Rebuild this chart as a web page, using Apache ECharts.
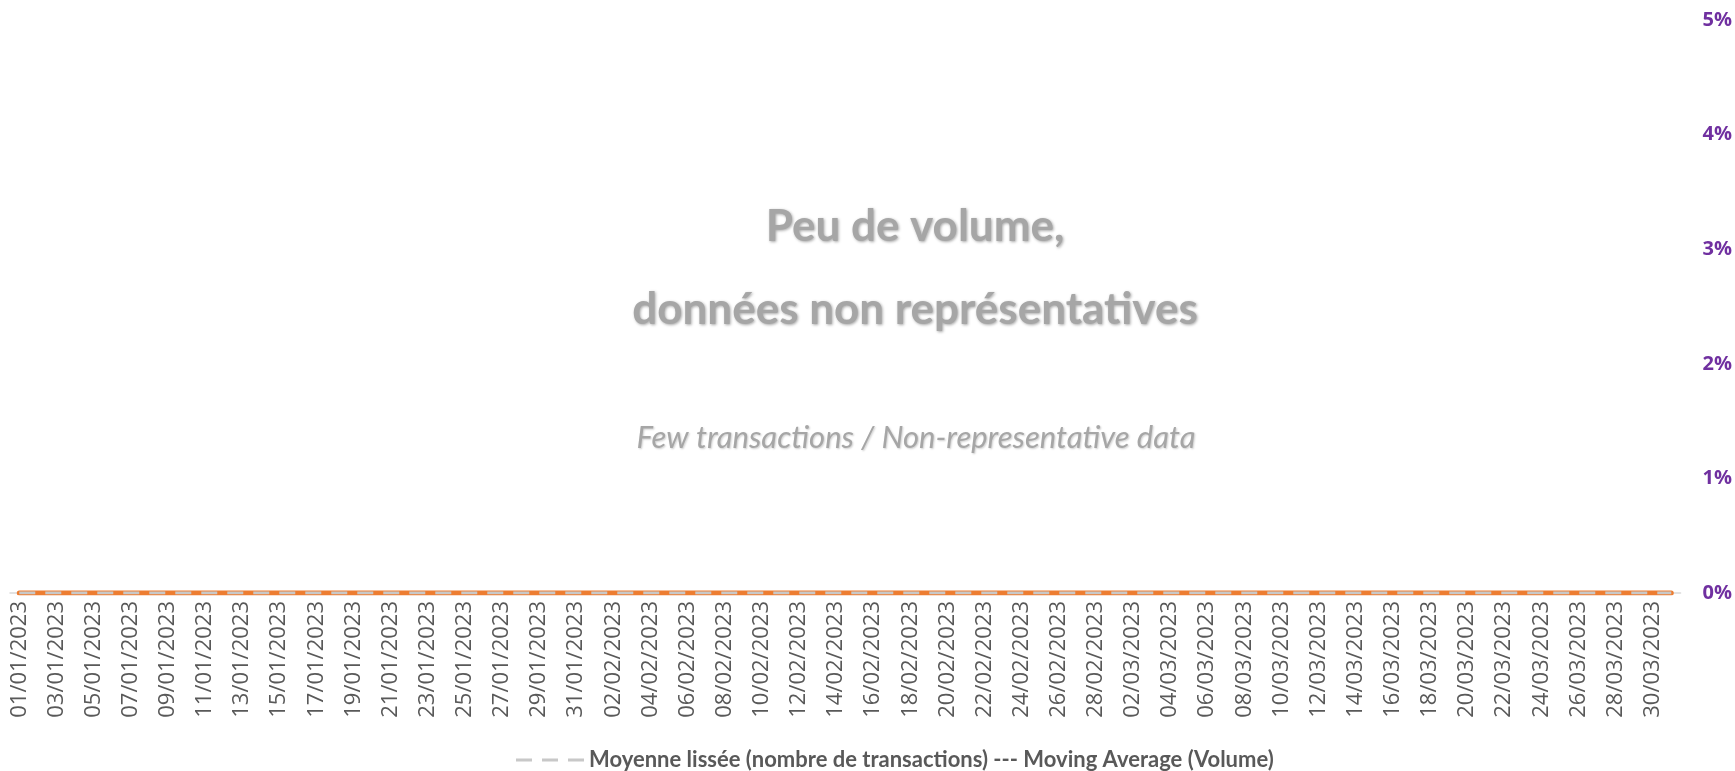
<!DOCTYPE html>
<html>
<head>
<meta charset="utf-8">
<script src="https://cdn.jsdelivr.net/npm/echarts@6/dist/echarts.min.js"></script>
<style>html,body{margin:0;padding:0;background:#fff}#c{width:1735px;height:771px}</style>
</head>
<body>
<div id="c"></div>
<script>
const categories = [
"01/01/2023","02/01/2023","03/01/2023","04/01/2023","05/01/2023","06/01/2023","07/01/2023","08/01/2023","09/01/2023","10/01/2023",
"11/01/2023","12/01/2023","13/01/2023","14/01/2023","15/01/2023","16/01/2023","17/01/2023","18/01/2023","19/01/2023","20/01/2023",
"21/01/2023","22/01/2023","23/01/2023","24/01/2023","25/01/2023","26/01/2023","27/01/2023","28/01/2023","29/01/2023","30/01/2023",
"31/01/2023","01/02/2023","02/02/2023","03/02/2023","04/02/2023","05/02/2023","06/02/2023","07/02/2023","08/02/2023","09/02/2023",
"10/02/2023","11/02/2023","12/02/2023","13/02/2023","14/02/2023","15/02/2023","16/02/2023","17/02/2023","18/02/2023","19/02/2023",
"20/02/2023","21/02/2023","22/02/2023","23/02/2023","24/02/2023","25/02/2023","26/02/2023","27/02/2023","28/02/2023","01/03/2023",
"02/03/2023","03/03/2023","04/03/2023","05/03/2023","06/03/2023","07/03/2023","08/03/2023","09/03/2023","10/03/2023","11/03/2023",
"12/03/2023","13/03/2023","14/03/2023","15/03/2023","16/03/2023","17/03/2023","18/03/2023","19/03/2023","20/03/2023","21/03/2023",
"22/03/2023","23/03/2023","24/03/2023","25/03/2023","26/03/2023","27/03/2023","28/03/2023","29/03/2023","30/03/2023","31/03/2023"
];
const volumeValues = [
0,0,0,0,0,0,0,0,0,0, 0,0,0,0,0,0,0,0,0,0, 0,0,0,0,0,0,0,0,0,0,
0,0,0,0,0,0,0,0,0,0, 0,0,0,0,0,0,0,0,0,0, 0,0,0,0,0,0,0,0,0,0,
0,0,0,0,0,0,0,0,0,0, 0,0,0,0,0,0,0,0,0,0, 0,0,0,0,0,0,0,0,0,0
];
const movingAverageValues = [
0,0,0,0,0,0,0,0,0,0, 0,0,0,0,0,0,0,0,0,0, 0,0,0,0,0,0,0,0,0,0,
0,0,0,0,0,0,0,0,0,0, 0,0,0,0,0,0,0,0,0,0, 0,0,0,0,0,0,0,0,0,0,
0,0,0,0,0,0,0,0,0,0, 0,0,0,0,0,0,0,0,0,0, 0,0,0,0,0,0,0,0,0,0
];
const yTicks = [0, 0.01, 0.02, 0.03, 0.04, 0.05];
const legendName = "Moyenne lissée (nombre de transactions) --- Moving Average (Volume)";
const titleLine1 = "Peu de volume,";
const titleLine2 = "données non représentatives";
const subtitle = "Few transactions / Non-representative data";

const chart = echarts.init(document.getElementById('c'));
const shadow = {textShadowColor:'rgba(0,0,0,0.35)', textShadowBlur:3, textShadowOffsetX:1, textShadowOffsetY:1};
chart.setOption({
  animation:false,
  grid:{left:10, right:54, top:20, bottom:178, containLabel:false},
  legend:{
    left:511, top:744, itemWidth:68, itemHeight:3, itemGap:10,
    data:[{name:legendName, icon:'path://M0,0h16v3h-16z M26,0h16v3h-16z M52,0h16v3h-16z',
           itemStyle:{color:'#C8C8C8'}}],
    textStyle:{fontFamily:'Lato', fontWeight:'bold', fontSize:22, color:'#595959'}
  },
  xAxis:{
    type:'category', data:categories, boundaryGap:true,
    axisLine:{lineStyle:{color:'#D9D9D9', width:1.5}},
    axisTick:{interval:1, length:6, lineStyle:{color:'#D9D9D9', width:1.5}},
    axisLabel:{interval:1, rotate:90, margin:8, fontFamily:'Open Sans', fontSize:22, color:'#595959'}
  },
  yAxis:{
    type:'value', position:'right', min:yTicks[0], max:yTicks[yTicks.length-1], interval:0.01,
    splitLine:{show:false}, axisLine:{show:false}, axisTick:{show:false},
    axisLabel:{margin:22, fontFamily:'Open Sans', fontWeight:'bold', fontSize:20, color:'#7030A0',
      formatter:v=>Math.round(v*100)+'%'}
  },
  series:[
    {name:'Volume', type:'line', data:volumeValues, symbol:'none', z:2,
     lineStyle:{color:'#ED7D31', width:5, cap:'round'}, itemStyle:{color:'#ED7D31'}},
    {name:legendName, type:'line', data:movingAverageValues, symbol:'none', z:3,
     lineStyle:{color:'#C8C8C8', width:3, type:[16,10]}, itemStyle:{color:'#C8C8C8'}}
  ],
  graphic:[
    {type:'text', x:915, y:227, style:Object.assign({text:titleLine1, font:'bold 44px Lato', fill:'#A6A6A6', align:'center', verticalAlign:'middle'}, shadow)},
    {type:'text', x:915, y:310, style:Object.assign({text:titleLine2, font:'bold 44px Lato', fill:'#A6A6A6', align:'center', verticalAlign:'middle'}, shadow)},
    {type:'text', x:916, y:438, style:Object.assign({text:subtitle, font:'italic 31px Lato', fill:'#A6A6A6', align:'center', verticalAlign:'middle'}, {textShadowColor:'rgba(0,0,0,0.2)', textShadowBlur:2, textShadowOffsetX:1, textShadowOffsetY:1})}
  ]
});
</script>
</body>
</html>
